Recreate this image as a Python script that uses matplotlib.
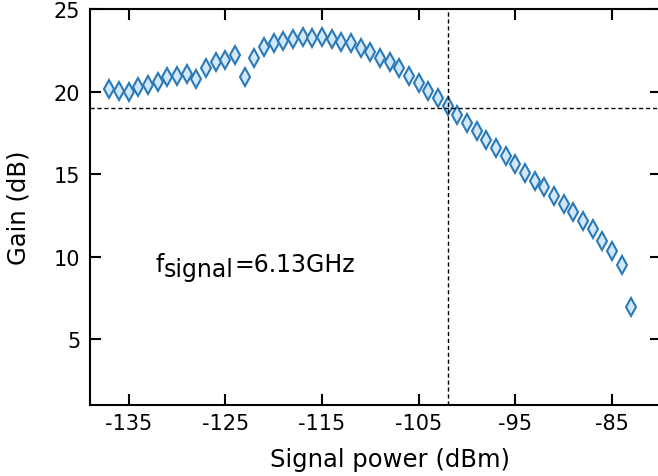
import matplotlib
matplotlib.use('Agg')
from matplotlib import pyplot as plt
import numpy as np

# signal power sweep (dBm), 1 dBm steps
power = np.arange(-137, -82, 1)
gain = [
    20.13, 20.03, 19.97, 20.25, 20.39, 20.56, 20.88, 20.92, 21.04, 20.78,
    21.44, 21.77, 21.89, 22.21, 20.88, 22.03, 22.68, 22.94, 23.04, 23.16,
    23.30, 23.26, 23.30, 23.16, 23.02, 22.92, 22.64, 22.38, 22.05, 21.77,
    21.42, 20.92, 20.50, 20.05, 19.61, 19.12, 18.58, 18.07, 17.59, 17.06,
    16.58, 16.07, 15.59, 15.08, 14.59, 14.19, 13.69, 13.18, 12.68, 12.17,
    11.67, 10.96, 10.35, 9.48, 6.96,
]
xticks = [-135, -125, -115, -105, -95, -85]
yticks = [5, 10, 15, 20, 25]
p1db_power = -102
p1db_gain = 19.0

plt.rcParams['font.family'] = ['DejaVu Sans']

fig = plt.figure(figsize=(6.58, 4.77), dpi=100)
ax = fig.add_axes([0.1368, 0.1488, 0.867, 0.830])

ax.plot(power, gain, 'd', markersize=9, markeredgewidth=1.5,
        markeredgecolor='#2a7ab9', markerfacecolor='#d2e7f7')
ax.axhline(p1db_gain, color='black', linestyle='--', linewidth=1.0,
           dashes=(3, 2))
ax.axvline(p1db_power, color='black', linestyle='--', linewidth=1.0,
           dashes=(3, 2))

# f_signal label, subscript kept at full size like the original
t1 = ax.text(-132.2, 9.1, 'f', fontsize=17)
t2 = ax.annotate('signal', xy=(1, 0), xycoords=t1, xytext=(0, -3.5),
                 textcoords='offset points', fontsize=17, va='bottom')
ax.annotate('=6.13GHz', xy=(1, 0), xycoords=t2, xytext=(0, 3.5),
            textcoords='offset points', fontsize=17, va='bottom')

ax.set_xlim(-139, -80)
ax.set_ylim(1, 25)
ax.set_xticks(xticks)
ax.set_xticklabels([str(t) for t in xticks])
ax.set_yticks(yticks)
ax.tick_params(direction='in', length=8, width=1.5, labelsize=15,
               top=True, right=True)
ax.tick_params(axis='x', pad=6)
ax.tick_params(axis='y', pad=7)
for sp in ax.spines.values():
    sp.set_linewidth(1.5)

ax.set_xlabel('Signal power (dBm)', fontsize=17.5)
ax.set_ylabel('Gain (dB)', fontsize=17.5)
ax.xaxis.set_label_coords(0.526, -0.106)
ax.yaxis.set_label_coords(-0.105, 0.5)

fig.savefig('out.png', dpi=100)
